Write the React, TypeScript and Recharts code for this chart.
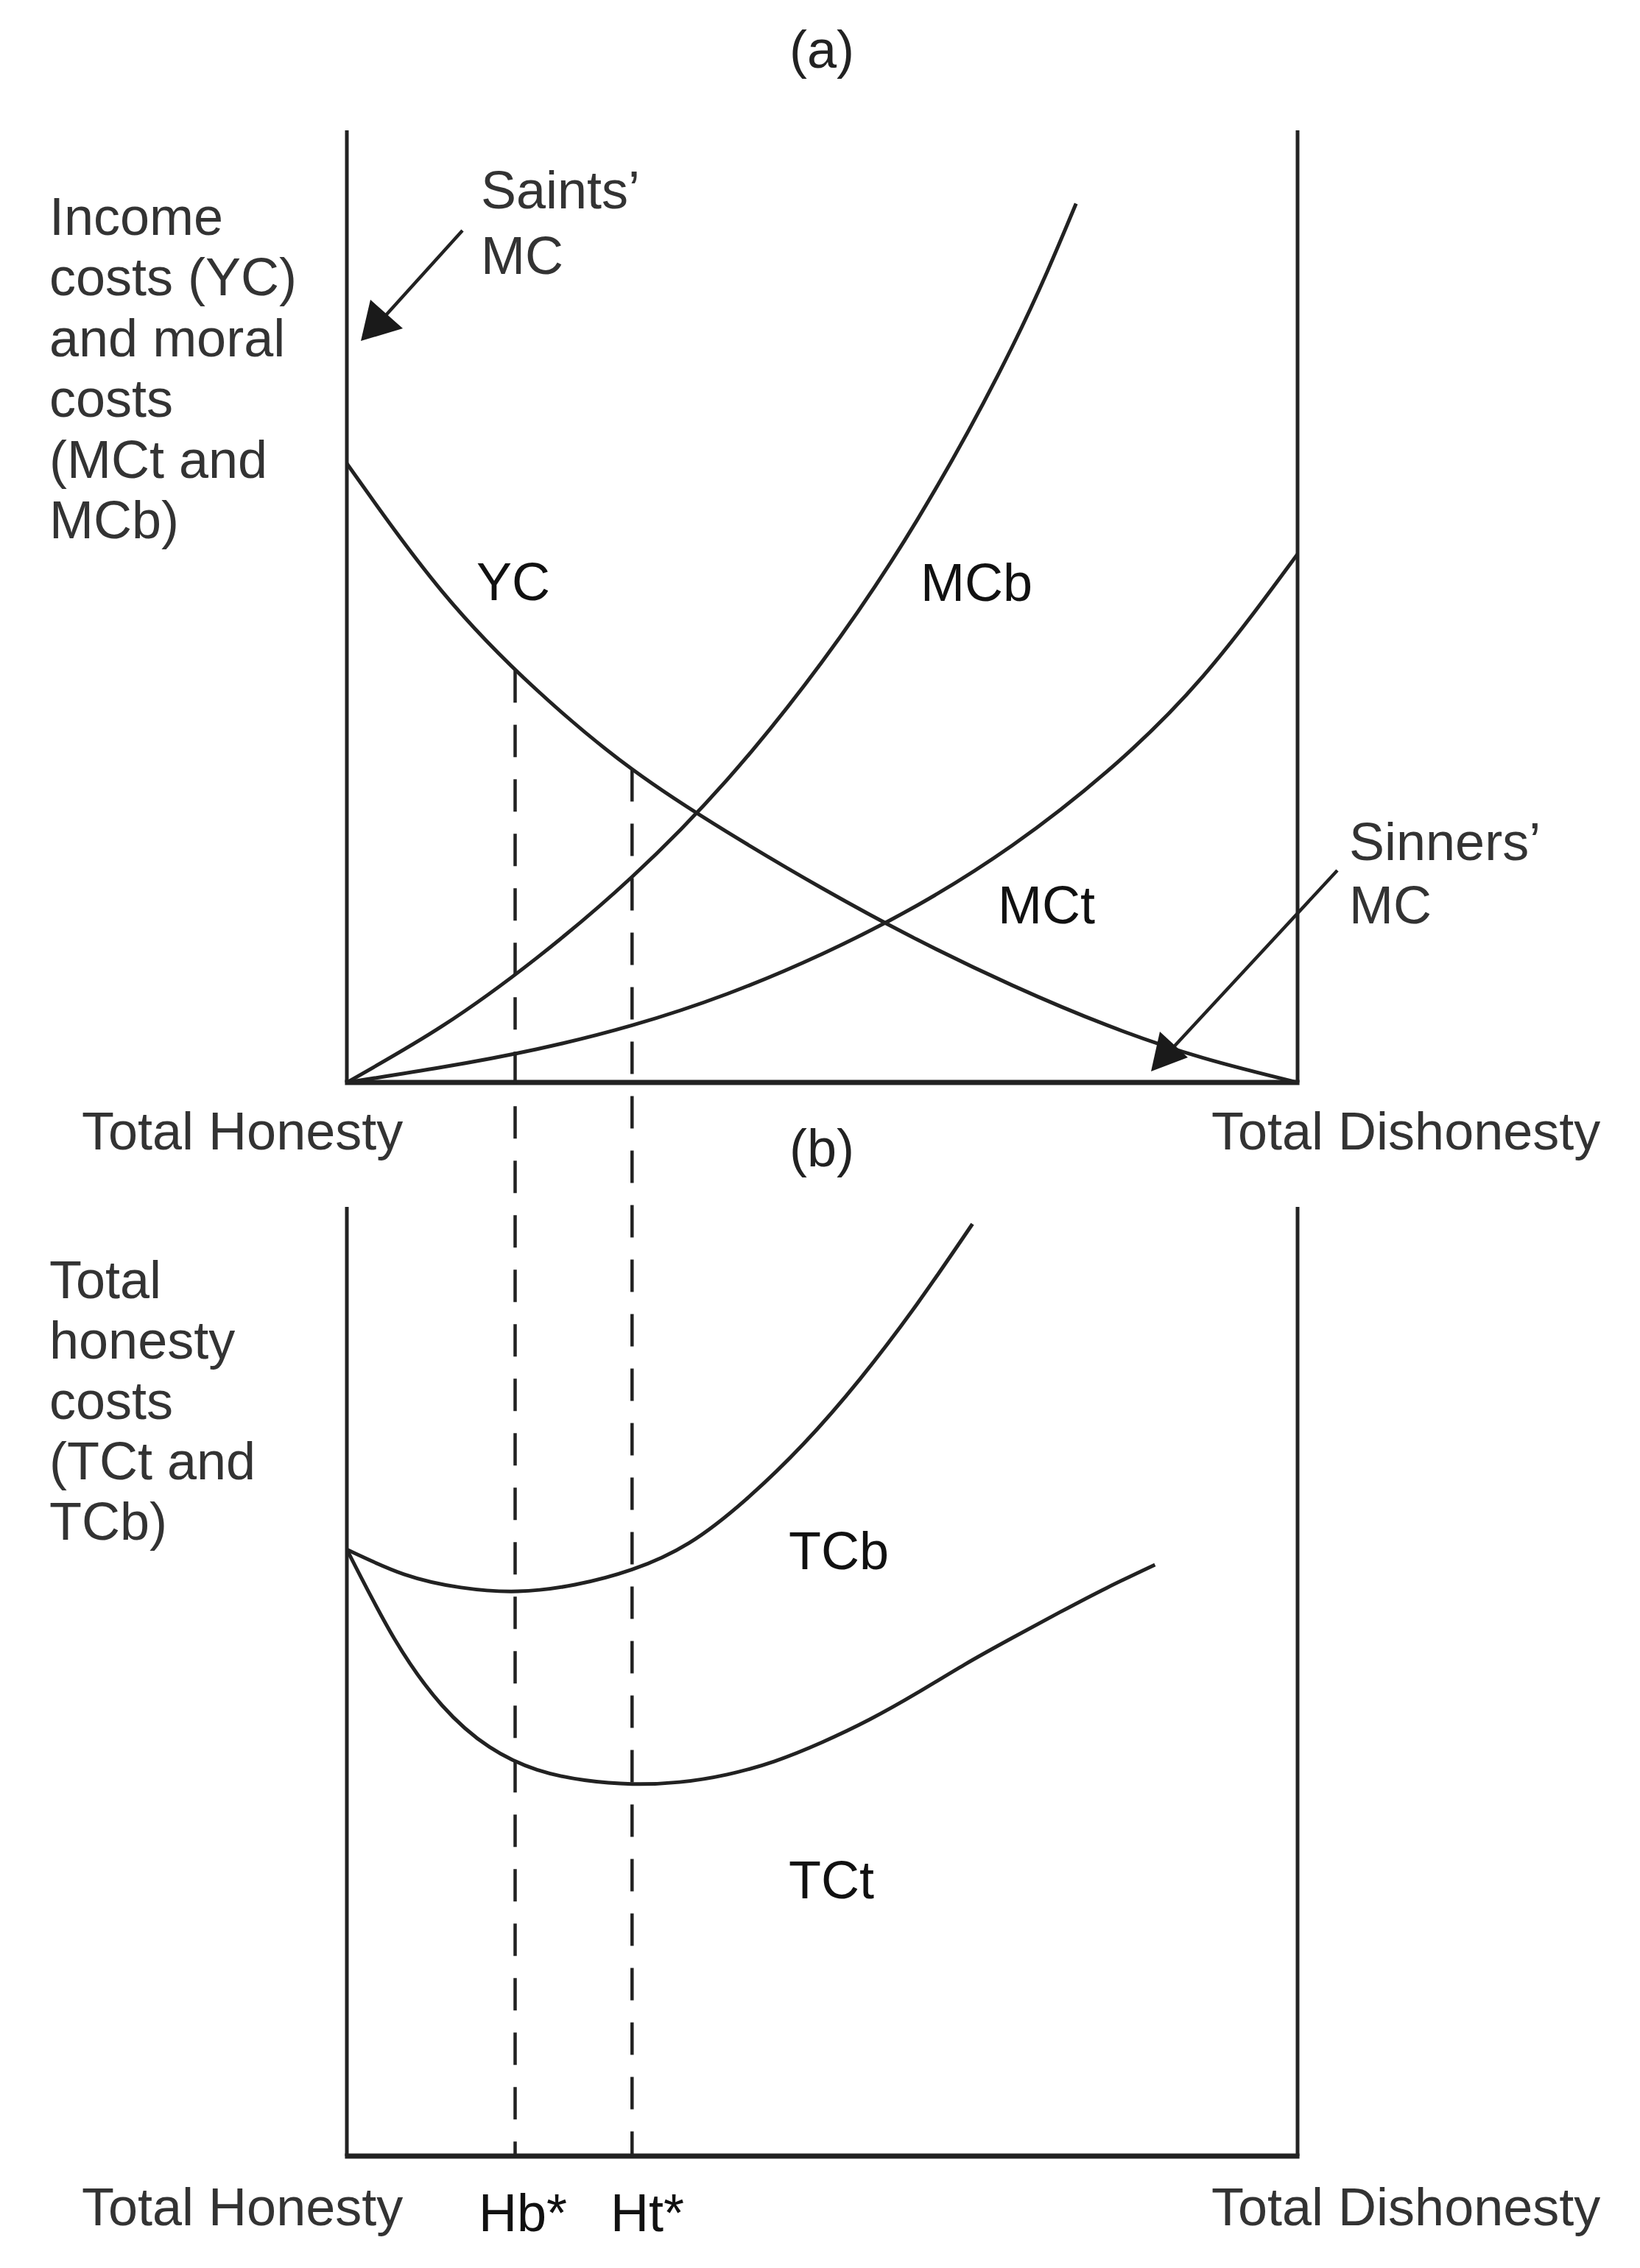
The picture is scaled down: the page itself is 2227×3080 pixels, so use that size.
import React from 'react';
import { ComposedChart, Line, XAxis, YAxis, ReferenceLine } from 'recharts';

// panel (a): marginal costs, x = 0 (total honesty) .. 100 (total dishonesty)
const yc = [
  { x: 0, y: 65 }, { x: 10, y: 51.6 }, { x: 20, y: 41.2 }, { x: 30, y: 32.9 },
  { x: 40, y: 26.3 }, { x: 50, y: 20.4 }, { x: 60, y: 15.0 }, { x: 70, y: 10.2 },
  { x: 80, y: 6.0 }, { x: 90, y: 2.6 }, { x: 100, y: 0 },
];
const mcb = [
  { x: 0, y: 0 }, { x: 10, y: 5.9 }, { x: 20, y: 13.1 }, { x: 30, y: 21.6 },
  { x: 40, y: 31.8 }, { x: 50, y: 44.2 }, { x: 60, y: 59.1 }, { x: 70, y: 77.3 },
  { x: 76.7, y: 92.3 },
];
const mct = [
  { x: 0, y: 0 }, { x: 10, y: 1.6 }, { x: 20, y: 3.5 }, { x: 30, y: 6.0 },
  { x: 40, y: 9.3 }, { x: 50, y: 13.5 }, { x: 60, y: 18.6 }, { x: 70, y: 24.9 },
  { x: 80, y: 32.7 }, { x: 90, y: 42.6 }, { x: 100, y: 55.5 },
];

// panel (b): total costs
const tcb = [
  { x: 0, y: 63.9 }, { x: 6, y: 61.3 }, { x: 12, y: 59.9 }, { x: 18, y: 59.5 },
  { x: 24, y: 60.2 }, { x: 30, y: 61.8 }, { x: 36, y: 64.6 }, { x: 42, y: 69.2 },
  { x: 48, y: 75.0 }, { x: 54, y: 81.9 }, { x: 60, y: 89.8 }, { x: 65.8, y: 98.2 },
];
const tct = [
  { x: 0, y: 63.9 }, { x: 5, y: 54.5 }, { x: 10, y: 47.5 }, { x: 15, y: 43.1 },
  { x: 20, y: 40.7 }, { x: 25, y: 39.6 }, { x: 30, y: 39.2 }, { x: 35, y: 39.4 },
  { x: 40, y: 40.2 }, { x: 45, y: 41.6 }, { x: 50, y: 43.6 }, { x: 55, y: 46.0 },
  { x: 60, y: 48.8 }, { x: 65, y: 51.8 }, { x: 70, y: 54.6 }, { x: 75, y: 57.3 },
  { x: 80, y: 59.9 }, { x: 85, y: 62.3 },
];

// optimal honesty levels, where the dashed lines meet YC
const optima = [
  { label: 'Hb*', x: 17.7, yc: 43.3 },
  { label: 'Ht*', x: 30, yc: 32.9 },
];

const yLabelA = ['Income', 'costs (YC)', 'and moral', 'costs', '(MCt and', 'MCb)'];
const yLabelB = ['Total', 'honesty', 'costs', '(TCt and', 'TCb)'];

// page layout (px)
const W = 2227;
const H = 3080;
const LEFT = 471;
const RIGHT = 1762;
const TOP_A = 177;
const BOT_A = 1470;
const TOP_B = 1639;
const BOT_B = 2928;

// both panels share one plot area; each y axis maps 0..100 onto its own panel
const domA = [-((BOT_B - BOT_A) / (BOT_A - TOP_A)) * 100, 100];
const domB = [0, 100 + ((TOP_B - TOP_A) / (BOT_B - TOP_B)) * 100];

const ink = '#222';
const font = '"Liberation Sans", Arial, Helvetica, sans-serif';

export default function App() {
  const curve = (data: any[], axis: string, key: string) => (
    <Line
      key={key}
      yAxisId={axis}
      data={data}
      dataKey="y"
      type="natural"
      stroke={ink}
      strokeWidth={5}
      dot={false}
      activeDot={false}
      isAnimationActive={false}
    />
  );

  const frame = (axis: string) => [
    <ReferenceLine key={axis + 'l'} yAxisId={axis} segment={[{ x: 0, y: 0 }, { x: 0, y: 100 }]} stroke={ink} strokeWidth={5} />,
    <ReferenceLine key={axis + 'r'} yAxisId={axis} segment={[{ x: 100, y: 0 }, { x: 100, y: 100 }]} stroke={ink} strokeWidth={5} />,
    <ReferenceLine
      key={axis + 'b'}
      yAxisId={axis}
      ifOverflow="visible"
      segment={[{ x: -0.2, y: 0 }, { x: 100.2, y: 0 }]}
      stroke={ink}
      strokeWidth={7}
    />,
  ];

  const txt = (x: number, y: number, s: string, fill = '#333', anchor = 'start') => (
    <text key={s + x + y} x={x} y={y} fill={fill} fontSize={72} fontFamily={font} textAnchor={anchor}>
      {s}
    </text>
  );

  return (
    <div style={{ position: 'absolute', left: 0, top: 0, width: W, height: H, background: '#fff' }}>
      <ComposedChart
        width={W}
        height={H}
        margin={{ top: TOP_A, right: W - RIGHT, bottom: H - BOT_B, left: LEFT }}
      >
        <XAxis type="number" dataKey="x" domain={[0, 100]} allowDataOverflow hide />
        <YAxis yAxisId="a" type="number" domain={domA} allowDataOverflow hide />
        <YAxis yAxisId="b" type="number" domain={domB} allowDataOverflow hide />
        {frame('a')}
        {frame('b')}
        {optima.map((o) => (
          <ReferenceLine
            key={o.label}
            yAxisId="a"
            segment={[{ x: o.x, y: o.yc }, { x: o.x, y: domA[0] }]}
            stroke={ink}
            strokeWidth={4.5}
            strokeDasharray="44 30"
          />
        ))}
        {curve(yc, 'a', 'yc')}
        {curve(mcb, 'a', 'mcb')}
        {curve(mct, 'a', 'mct')}
        {curve(tcb, 'b', 'tcb')}
        {curve(tct, 'b', 'tct')}
      </ComposedChart>

      <svg
        width={W}
        height={H}
        style={{ position: 'absolute', left: 0, top: 0, pointerEvents: 'none' }}
      >
        {txt(1116, 92, '(a)', '#222', 'middle')}
        {txt(1116, 1584, '(b)', '#222', 'middle')}
        {yLabelA.map((s, i) => txt(67, 319 + i * 82.4, s))}
        {yLabelB.map((s, i) => txt(67, 1763 + i * 82, s))}
        {txt(653, 283, 'Saints\u2019')}
        {txt(653, 372, 'MC')}
        {txt(1832, 1168, 'Sinners\u2019')}
        {txt(1832, 1254, 'MC')}
        {txt(647, 815, 'YC', '#111')}
        {txt(1250, 816, 'MCb', '#111')}
        {txt(1355, 1254, 'MCt', '#111')}
        {txt(1071, 2131, 'TCb', '#111')}
        {txt(1071, 2578, 'TCt', '#111')}
        {txt(111, 1561, 'Total Honesty')}
        {txt(1645, 1561, 'Total Dishonesty')}
        {txt(111, 3022, 'Total Honesty')}
        {txt(1645, 3022, 'Total Dishonesty')}
        {txt(650, 3030, optima[0].label, '#111')}
        {txt(829, 3030, optima[1].label, '#111')}

        <line x1={628} y1={313} x2={515} y2={438} stroke={ink} strokeWidth={4.5} />
        <polygon points="490,463 503,407 547,446" fill="#1a1a1a" />
        <line x1={1816} y1={1182} x2={1588} y2={1428} stroke={ink} strokeWidth={4.5} />
        <polygon points="1563,1455 1575,1401 1613,1436" fill="#1a1a1a" />
      </svg>
    </div>
  );
}
